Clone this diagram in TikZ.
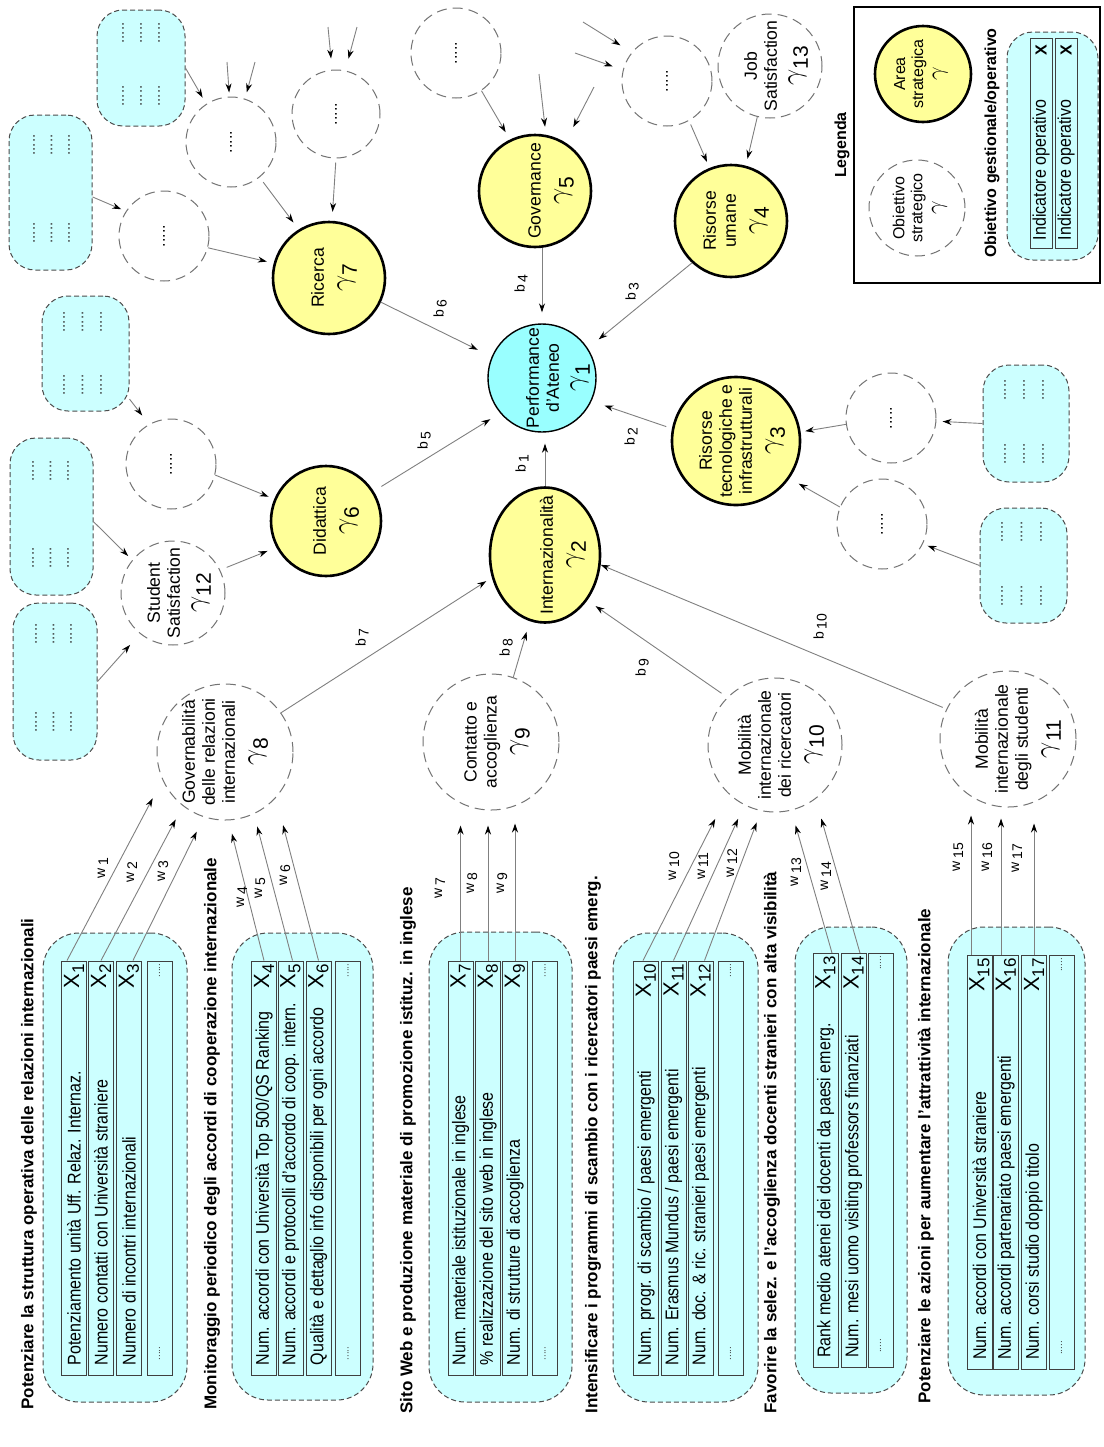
\documentclass[tikz,border=0pt]{standalone}
\usepackage{graphicx}
\usepackage{fontspec}
\setmainfont{Liberation Sans}
\usetikzlibrary{arrows.meta,shapes.geometric}

\definecolor{boxcyan}{RGB}{204,255,255}
\definecolor{perfcyan}{RGB}{153,255,255}
\definecolor{areayel}{RGB}{255,255,153}

\newcommand{\gam}[1]{{\fontsize{15}{15}\selectfont$\gamma$}\raisebox{-3.5pt}{\fontsize{10.5}{10.5}\selectfont #1}}
\newcommand{\xlab}[1]{X\raisebox{-2.5pt}{\fontsize{8.5}{8.5}\selectfont #1}}
\newcommand{\wlab}[1]{w\,\raisebox{-1.5pt}{#1}}
\newcommand{\blab}[1]{b\,\raisebox{-1.5pt}{#1}}
\newcommand{\rowtxt}[2]{\node[rtext] (#1t) at ([yshift=5pt]#1.south) {\scalebox{1}[1.15]{#2}};}
\newcommand{\rowx}[2]{\node[xl] (#1x) at ([yshift=-1.5pt]#1.north) {\xlab{#2}};}
\newcommand{\rowdots}[1]{\node[sdots] (#1a) at ([yshift=-5pt]#1.north) {.....};\node[sdots] (#1b) at ([yshift=11pt]#1.south) {.....};}
\newcommand{\dotbox}[9]{%
  \node[dgrp, minimum width=#4pt, minimum height=#5pt] (#1) at (#2,#3) {};
  \foreach \k in {0,1,2}{%
    \node[bdots] (#1a\k) at ({#6+\k*#7},#8) {.....};
    \node[bdots] (#1b\k) at ({#6+\k*#7},#9) {.....};
  }}

\begin{document}
\begin{tikzpicture}[x=0.5pt,y=-0.5pt,
  area/.style={circle, draw=black, line width=1.3pt, fill=areayel, inner sep=0pt},
  perf/.style={circle, draw=black, line width=0.7pt, fill=perfcyan, inner sep=0pt},
  obj/.style={circle, draw=black!55, line width=0.5pt, dash pattern=on 5pt off 3pt, inner sep=0pt},
  ctext/.style={rotate=90, align=center, font=\fontsize{8.8}{10}\selectfont, inner sep=0pt},
  grp/.style={draw=black!70, line width=0.5pt, dash pattern=on 2.5pt off 1.5pt, fill=boxcyan, rounded corners=18pt, inner sep=0pt},
  dgrp/.style={grp, rounded corners=13pt},
  rowbox/.style={draw=black!75, line width=0.5pt, fill=boxcyan, minimum width=12.5pt, minimum height=207pt, inner sep=0pt},
  rtext/.style={rotate=90, anchor=west, font=\fontsize{8}{9}\selectfont, inner sep=0pt},
  xl/.style={rotate=90, anchor=east, font=\fontsize{11}{11}\selectfont, inner sep=0pt},
  ttl/.style={rotate=90, anchor=west, font=\bfseries\fontsize{8.5}{9}\selectfont, inner sep=0pt},
  ttlc/.style={rotate=90, font=\bfseries\fontsize{8}{9}\selectfont, inner sep=0pt},
  lbl/.style={rotate=90, font=\fontsize{7}{7}\selectfont, inner sep=0pt},
  sdots/.style={rotate=90, font=\fontsize{5}{5}\selectfont, text=black!75, inner sep=0pt},
  bdots/.style={rotate=90, font=\fontsize{7.5}{7.5}\selectfont, text=black!80, inner sep=0pt},
  cdots/.style={rotate=90, font=\fontsize{8}{8}\selectfont, inner sep=0pt},
  arr/.style={draw=black!50, line width=0.45pt, -{Stealth[length=4.5pt,width=3pt,color=black]}}
]
\fill[white] (0,0) rectangle (1104,1447);
\useasboundingbox (0,0) rectangle (1104,1447);

% ---------------- strategic areas ----------------
\node[perf, minimum size=54pt] (g1) at (542,378) {};
\node[area, ellipse, minimum width=55pt, minimum height=67.5pt] (g2) at (545,555) {};
\node[area, minimum size=64pt] (g3) at (736,441) {};
\node[area, minimum size=56pt] (g4) at (731,221) {};
\node[area, minimum size=56pt] (g5) at (535,191) {};
\node[area, minimum size=55pt] (g6) at (326,521) {};
\node[area, minimum size=56pt] (g7) at (329,278) {};
% ---------------- strategic objectives ----------------
\node[obj, minimum size=68pt] (g8) at (225,752) {};
\node[obj, minimum size=68pt] (g9) at (491,742) {};
\node[obj, minimum size=67pt] (g10) at (775,745) {};
\node[obj, minimum size=68pt] (g11) at (1008,739) {};
\node[obj, minimum size=52pt] (g12) at (173,593) {};
\node[obj, minimum size=52pt] (g13) at (770,66) {};
\node[obj, minimum size=45pt] (o6) at (171,464) {};
\node[obj, minimum size=45pt] (o7a) at (164,236) {};
\node[obj, minimum size=45pt] (o7b) at (231,142) {};
\node[obj, minimum size=44pt] (o7c) at (336,114) {};
\node[obj, minimum size=45pt] (o5) at (456,53) {};
\node[obj, minimum size=45pt] (o4) at (667,81) {};
\node[obj, minimum size=45pt] (o3a) at (891,418) {};
\node[obj, minimum size=45pt] (o3b) at (882,524) {};

% circle texts
\node[ctext] (t1) at ([xshift=8pt]g1.center) {Performance\\d'Ateneo\\[2pt]\gam{1}};
\node[ctext] (t2) at ([xshift=9pt]g2.center) {Internazionalità\\[3pt]\gam{2}};
\node[ctext] (t3) at ([xshift=3pt]g3.center) {Risorse\\tecnologiche e\\infrastrutturali\\[3pt]\gam{3}};
\node[ctext] (t4) at ([xshift=2.5pt]g4.center) {Risorse\\umane\\[3pt]\gam{4}};
\node[ctext] (t5) at ([xshift=8pt]g5.center) {Governance\\[3pt]\gam{5}};
\node[ctext] (t6) at ([xshift=5pt]g6.center) {Didattica\\[3pt]\gam{6}};
\node[ctext] (t7) at ([xshift=2.5pt]g7.center) {Ricerca\\[3pt]\gam{7}};
\node[ctext] (t8) at (g8.center) {Governabilità\\delle relazioni\\internazionali\\[3pt]\gam{8}};
\node[ctext] (t9) at ([xshift=3pt]g9.center) {Contatto e\\accoglienza\\[3pt]\gam{9}};
\node[ctext] (t10) at ([xshift=3pt]g10.center) {Mobilità\\internazionale\\dei ricercatori\\[3pt]\gam{10}};
\node[ctext] (t11) at ([xshift=5pt]g11.center) {Mobilità\\internazionale\\degli studenti\\[3pt]\gam{11}};
\node[ctext] (t12) at ([xshift=3pt]g12.center) {Student\\Satisfaction\\[2pt]\gam{12}};
\node[ctext] (t13) at ([xshift=3pt]g13.center) {Job\\Satisfaction\\[2pt]\gam{13}};
\foreach \n in {o6,o7a,o7b,o7c,o5,o4,o3a,o3b}{\node[cdots] (\n t) at (\n.center) {.....};}

% ---------------- dotted indicator boxes ----------------
\dotbox{bA}{141}{68}{44}{58}{123}{18}{33}{96}
\dotbox{bB}{50.5}{192.5}{41.5}{77.5}{34}{17.5}{145}{233}
\dotbox{bC}{85.5}{353.5}{43.5}{57.5}{64}{18.5}{322}{385}
\dotbox{bD}{51.5}{516.5}{41.5}{78.5}{33}{17.5}{471}{558}
\dotbox{bE}{55}{681.5}{42}{78.5}{36}{17.5}{634}{722}
\dotbox{bF}{1026}{423.5}{43}{58.5}{1005}{19}{390}{454}
\dotbox{bG}{1023.5}{565.5}{43.5}{57.5}{1002}{19.5}{532}{596}

% ---------------- operational groups ----------------
\node[ttl] (T1) at (29,1410) {Potenziare la struttura operativa delle relazioni internazionali};
\node[ttl] (T2) at (212,1410) {Monitoraggio periodico degli accordi di cooperazione internazionale};
\node[ttl] (T3) at (408,1414) {Sito Web e produzione materiale di promozione istituz. in inglese};
\node[ttl] (T4) at (593,1414) {Intensificare i programmi di scambio con i ricercatori paesi emerg.};
\node[ttl] (T5) at (772,1414) {Favorire la selez. e l'accoglienza docenti stranieri con alta visibilità};
\node[ttl] (T6) at (926,1404) {Potenziare le azioni per aumentare l'attrattività internazionale};

\node[grp, minimum width=72pt, minimum height=234.5pt] (G1) at (115,1167.5) {};
\node[rowbox] (r11) at (74,1168) {};
\node[rowbox] (r12) at (101,1168) {};
\node[rowbox] (r13) at (129,1168) {};
\node[rowbox] (r14) at (159.5,1168) {};
\rowtxt{r11}{Potenziamento unità Uff. Relaz. Internaz.}\rowx{r11}{1}
\rowtxt{r12}{Numero contatti con Università straniere}\rowx{r12}{2}
\rowtxt{r13}{Numero di incontri internazionali}\rowx{r13}{3}
\rowdots{r14}

\node[grp, minimum width=70.5pt, minimum height=233.5pt] (G2) at (302.5,1166.5) {};
\node[rowbox] (r21) at (264,1168) {};
\node[rowbox] (r22) at (290.5,1168) {};
\node[rowbox] (r23) at (318.5,1168) {};
\node[rowbox] (r24) at (348,1168) {};
\rowtxt{r21}{Num. accordi con Università Top 500/QS Ranking}\rowx{r21}{4}
\rowtxt{r22}{Num. accordi e protocolli d'accordo di coop. intern.}\rowx{r22}{5}
\rowtxt{r23}{Qualità e dettaglio info disponibili per ogni accordo}\rowx{r23}{6}
\rowdots{r24}

\node[grp, minimum width=71.5pt, minimum height=235pt] (G3) at (500.5,1167) {};
\node[rowbox] (r31) at (460.5,1168) {};
\node[rowbox] (r32) at (488,1168) {};
\node[rowbox] (r33) at (515,1168) {};
\node[rowbox] (r34) at (545,1168) {};
\rowtxt{r31}{Num. materiale istituzionale in inglese}\rowx{r31}{7}
\rowtxt{r32}{\% realizzazione del sito web in inglese}\rowx{r32}{8}
\rowtxt{r33}{Num. di strutture di accoglienza}\rowx{r33}{9}
\rowdots{r34}

\node[grp, minimum width=72.5pt, minimum height=234.5pt] (G4) at (685.5,1167.5) {};
\node[rowbox] (r41) at (646,1168) {};
\node[rowbox] (r42) at (673.5,1168) {};
\node[rowbox] (r43) at (700.5,1168) {};
\node[rowbox] (r44) at (730.5,1168) {};
\rowtxt{r41}{Num. progr. di scambio / paesi emergenti}\rowx{r41}{10}
\rowtxt{r42}{Num. Erasmus Mundus / paesi emergenti}\rowx{r42}{11}
\rowtxt{r43}{Num. doc. \& ric. stranieri paesi emergenti}\rowx{r43}{12}
\rowdots{r44}

\node[grp, minimum width=56pt, minimum height=233pt] (G5) at (851,1160) {};
\node[rowbox] (r51) at (825.5,1160.5) {};
\node[rowbox] (r52) at (853.5,1160.5) {};
\node[rowbox] (r53) at (880.5,1160.5) {};
\rowtxt{r51}{Rank medio atenei dei docenti da paesi emerg.}\rowx{r51}{13}
\rowtxt{r52}{Num. mesi uomo visiting professors finanziati}\rowx{r52}{14}
\rowdots{r53}

\node[grp, minimum width=68.5pt, minimum height=234pt] (G6) at (1016.5,1161) {};
\node[rowbox] (r61) at (979.5,1162.5) {};
\node[rowbox] (r62) at (1006,1162.5) {};
\node[rowbox] (r63) at (1034,1162.5) {};
\node[rowbox] (r64) at (1061.5,1162.5) {};
\rowtxt{r61}{Num. accordi con Università straniere}\rowx{r61}{15}
\rowtxt{r62}{Num. accordi partenariato paesi emergenti}\rowx{r62}{16}
\rowtxt{r63}{Num. corsi studio doppio titolo}\rowx{r63}{17}
\rowdots{r64}

% ---------------- legend ----------------
\node[ttlc] (legt) at (842,145) {Legenda};
\node[draw=black, line width=0.8pt, minimum width=123pt, minimum height=138pt, inner sep=0pt] (leg) at (977,145) {};
\node[area, minimum size=48pt] (la) at (923,74) {};
\node[ctext, font=\fontsize{8}{9}\selectfont] (lat) at ([xshift=-1pt]la.center) {Area\\strategica\\[1pt]{\fontsize{13}{13}\selectfont$\gamma$}};
\node[obj, minimum size=48pt] (lo) at (917,208) {};
\node[ctext, font=\fontsize{8}{9}\selectfont] (lot) at ([xshift=1.5pt]lo.center) {Obiettivo\\strategico\\[1pt]{\fontsize{13}{13}\selectfont$\gamma$}};
\node[ttlc] (legog) at (992,143) {Obiettivo gestionale/operativo};
\node[dgrp, minimum width=45.5pt, minimum height=114pt] (lg) at (1052.5,146) {};
\node[rowbox, minimum width=11pt, minimum height=105pt] (lr1) at (1041,143) {};
\node[rowbox, minimum width=11pt, minimum height=105pt] (lr2) at (1066,143) {};
\node[rtext] (lr1t) at ([yshift=4pt]lr1.south) {\scalebox{1}[1.15]{Indicatore operativo}};
\node[rtext] (lr2t) at ([yshift=4pt]lr2.south) {\scalebox{1}[1.15]{Indicatore operativo}};
\node[ttlc, anchor=east] (lr1x) at ([yshift=-3.5pt]lr1.north) {X};
\node[ttlc, anchor=east] (lr2x) at ([yshift=-3.5pt]lr2.north) {X};

% ---------------- free arrow ends ----------------
\coordinate (fa1) at (227,62);
\coordinate (fa2) at (255,62);
\coordinate (fb1) at (328,27);
\coordinate (fb2) at (357,27);
\coordinate (fc1) at (539,74);
\coordinate (fc2) at (594,87);
\coordinate (fd1) at (583,22);
\coordinate (fd2) at (575,53);

% ---------------- connectors ----------------
% indicators -> objectives
\draw[arr, shorten >=10.4pt] ([xshift=-3.5pt]r11.north) -- (g8.204);
\draw[arr, shorten >=7.6pt] (r12.north) -- (g8.232);
\draw[arr, shorten >=8pt] ([xshift=2pt]r13.north) -- (g8.252);
\draw[arr, shorten >=6.8pt] (r21.north) -- (g8.273);
\draw[arr, shorten >=6.4pt] ([xshift=1pt]r22.north) -- (g8.295);
\draw[arr, shorten >=14.1pt] (r23.north) -- (g8.318);
\draw[arr, shorten >=7.5pt] (r31.north) -- (r31.north |- g9.south);
\draw[arr, shorten >=7.5pt] (r32.north) -- (r32.north |- g9.south);
\draw[arr, shorten >=6.5pt] (r33.north) -- (r33.north |- g9.south);
\draw[arr, shorten >=14.2pt] ([xshift=-1.5pt]r41.north) -- (g10.226);
\draw[arr, shorten >=7.5pt] (r42.north) -- (g10.243);
\draw[arr, shorten >=6.1pt] ([xshift=2pt]r43.north) -- (g10.258);
\draw[arr, shorten >=7.7pt] ([xshift=3.25pt]r51.north) -- (g10.284);
\draw[arr, shorten >=10.2pt] ([xshift=3.25pt]r52.north) -- (g10.307);
\draw[arr, shorten >=4pt] ([xshift=-4.25pt]r61.north) -- ([xshift=-4.25pt]r61.north |- g11.south);
\draw[arr, shorten >=5.5pt] ([xshift=-2.5pt]r62.north) -- ([xshift=-2.5pt]r62.north |- g11.south);
\draw[arr, shorten >=8pt] (r63.north) -- (r63.north |- g11.south);
% objectives -> areas
\draw[arr, shorten >=3.3pt] (g8.35) -- (g2.203);
\draw[arr, shorten >=5.5pt] (g9.71) -- (g2.257);
\draw[arr, shorten <=3.5pt, shorten >=5pt] (g10.135) -- (g2.313);
\draw[arr, shorten <=2pt] (g11.154) -- (g2.350);
\draw[arr, shorten <=3.5pt, shorten >=4.7pt] (g12.26) -- (g6.208);
\draw[arr, shorten >=3pt] (o6.346) -- (g6.157);
\draw[arr, shorten >=3.5pt] (o7a.345) -- (g7.165);
\draw[arr, shorten <=3pt, shorten >=4.3pt] (o7b.309) -- (g7.122);
\draw[arr, shorten <=2pt, shorten >=4.5pt] (o7c.south) -- (g7.87);
\draw[arr, shorten >=4.2pt] (o5.304) -- (g5.116);
\draw[arr, shorten <=2pt, shorten >=3.2pt] (o4.299) -- (g4.112);
\draw[arr, shorten >=3.5pt] (g13.256) -- (g4.75);
\draw[arr, shorten >=2.3pt] (o3a.188) -- (g3.8);
\draw[arr, shorten >=5.3pt] (o3b.158) -- (g3.325);
% boxes -> objectives
\draw[arr, shorten >=5.5pt] (bC.314) -- (o6.119);
\draw[arr, shorten >=2.8pt] (bD.353) -- (g12.141);
\draw[arr, shorten >=7.4pt] (bE.east) -- (g12.231);
\draw[arr, shorten >=2.5pt] (bB.354) -- (o7a.147);
\draw[arr, shorten >=3.6pt] (bA.east) -- (o7b.123);
\draw[arr, shorten >=3.1pt] (bF.west) -- (o3a.356);
\draw[arr, shorten >=2.5pt] (bG.west) -- (o3b.334);
% free arrows
\draw[arr, shorten >=2pt] (fa1) -- (o7b.92);
\draw[arr, shorten >=3.3pt] (fa2) -- (o7b.72);
\draw[arr, shorten >=5.6pt] (fb1) -- (o7c.95);
\draw[arr, shorten >=6.1pt] (fb2) -- (o7c.78);
\draw[arr, shorten >=4pt] (fc1) -- (g5.79);
\draw[arr, shorten >=8.6pt] (fc2) -- (g5.58);
\draw[arr, shorten >=6.6pt] (fd1) -- (o4.141);
\draw[arr, shorten >=5.4pt] (fd2) -- (o4.166);
% areas -> performance
\draw[arr, shorten >=5.5pt] (g2.north) -- (g2.north |- g1.south);
\draw[arr, shorten <=3pt, shorten >=6.8pt] (g3.169) -- (g1.335);
\draw[arr, shorten >=7pt] (g4.227) -- (g1.33);
\draw[arr, shorten >=5.5pt] (g1.north |- g5.south) -- (g1.north);
\draw[arr, shorten <=4.5pt, shorten >=5.7pt] (g6.32) -- (g1.220);
\draw[arr, shorten >=7.7pt] (g7.335) -- (g1.157);

% ---------------- weight labels ----------------
\node[lbl] (lb1) at (522,464) {\blab{1}};
\node[lbl] (lb2) at (631,437) {\blab{2}};
\node[lbl] (lb3) at (632,292) {\blab{3}};
\node[lbl] (lb4) at (521,284) {\blab{4}};
\node[lbl] (lb5) at (424,441) {\blab{5}};
\node[lbl] (lb6) at (440,309) {\blab{6}};
\node[lbl] (lb7) at (362,638) {\blab{7}};
\node[lbl] (lb8) at (506,648) {\blab{8}};
\node[lbl] (lb9) at (642,668) {\blab{9}};
\node[lbl] (lb10) at (820,627) {\blab{10}};
\node[lbl] (lw1) at (103,868) {\wlab{1}};
\node[lbl] (lw2) at (132,872) {\wlab{2}};
\node[lbl] (lw3) at (163,871) {\wlab{3}};
\node[lbl] (lw4) at (242,897) {\wlab{4}};
\node[lbl] (lw5) at (260,888) {\wlab{5}};
\node[lbl] (lw6) at (285,875) {\wlab{6}};
\node[lbl] (lw7) at (440,888) {\wlab{7}};
\node[lbl] (lw8) at (472,883) {\wlab{8}};
\node[lbl] (lw9) at (502,883) {\wlab{9}};
\node[lbl] (lw10) at (674,866) {\wlab{10}};
\node[lbl] (lw11) at (703,866) {\wlab{11}};
\node[lbl] (lw12) at (732,863) {\wlab{12}};
\node[lbl] (lw13) at (796,872) {\wlab{13}};
\node[lbl] (lw14) at (826,876) {\wlab{14}};
\node[lbl] (lw15) at (958,857) {\wlab{15}};
\node[lbl] (lw16) at (987,857) {\wlab{16}};
\node[lbl] (lw17) at (1017,858) {\wlab{17}};
\end{tikzpicture}
\end{document}
